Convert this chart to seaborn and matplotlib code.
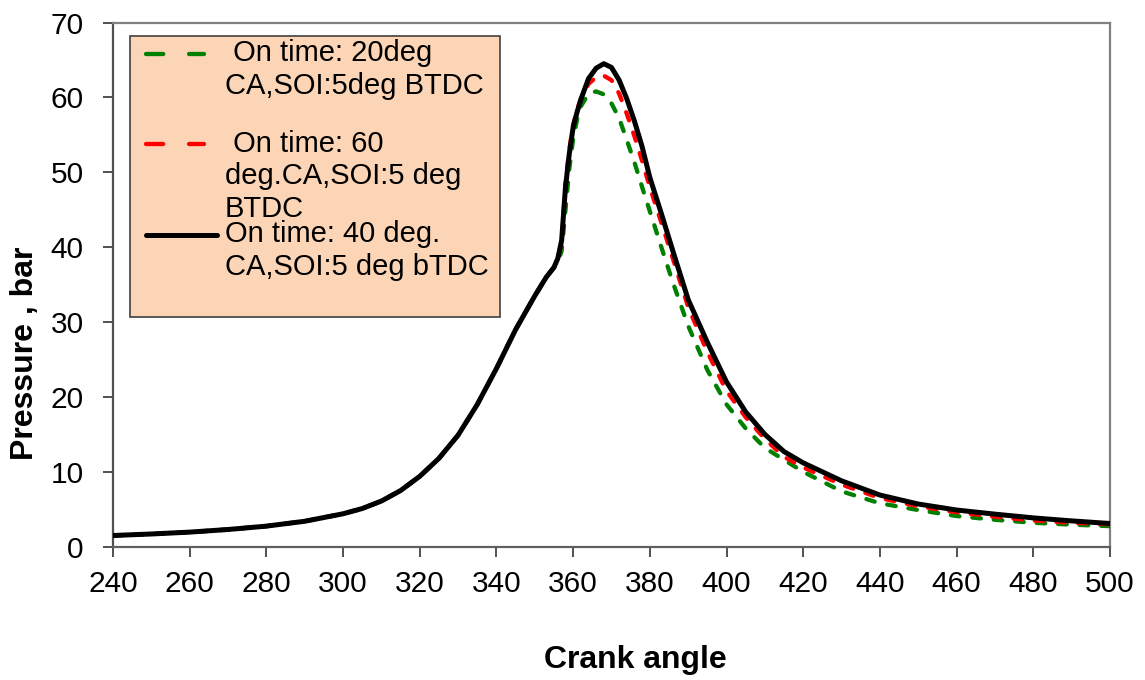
import numpy as np
import pandas as pd
import matplotlib
matplotlib.use("Agg")
import matplotlib.pyplot as plt
from matplotlib.lines import Line2D
import seaborn as sns

# ---------------- data ----------------
crank_angle = [240, 250, 260, 270, 280, 290, 300, 305, 310, 315, 320, 325, 330, 335,
               340, 345, 350, 353, 355, 356, 357, 358, 359, 360, 361, 362, 364, 366,
               368, 370, 372, 374, 376, 378, 380, 383, 386, 390, 395, 400, 405, 410,
               415, 420, 430, 440, 450, 460, 470, 480, 490, 500]

p_on40 = [1.5, 1.7, 1.95, 2.3, 2.75, 3.4, 4.4, 5.1, 6.1, 7.5, 9.4, 11.8, 14.9, 19.0,
          23.8, 29.0, 33.5, 36.0, 37.3, 38.5, 40.9, 48.0, 52.5, 56.0, 58.0, 59.7, 62.5, 63.9,
          64.5, 64.0, 62.3, 59.8, 56.8, 53.4, 49.3, 44.5, 39.5, 33.0, 27.3, 22.0, 18.0, 15.0,
          12.7, 11.2, 8.8, 6.9, 5.7, 4.9, 4.35, 3.85, 3.45, 3.1]

p_on60 = [1.5, 1.7, 1.95, 2.3, 2.75, 3.4, 4.4, 5.1, 6.1, 7.5, 9.4, 11.8, 14.9, 19.0,
          23.8, 29.0, 33.5, 36.0, 37.3, 38.5, 40.5, 48.5, 53.0, 56.3, 58.3, 59.8, 61.8, 62.7,
          62.9, 62.3, 60.5, 57.8, 54.8, 51.5, 48.0, 43.3, 38.5, 32.0, 26.0, 20.8, 17.3, 14.4,
          12.0, 10.6, 8.3, 6.5, 5.4, 4.6, 4.0, 3.5, 3.2, 3.0]

p_on20 = [1.5, 1.7, 1.95, 2.3, 2.75, 3.4, 4.4, 5.1, 6.1, 7.5, 9.4, 11.8, 14.9, 19.0,
          23.8, 29.0, 33.5, 36.0, 37.3, 38.0, 39.5, 45.0, 50.5, 54.5, 57.0, 58.8, 60.5, 60.8,
          60.4, 59.2, 57.2, 54.3, 51.3, 48.0, 44.8, 40.0, 35.3, 29.5, 23.6, 19.0, 15.8, 13.2,
          11.6, 10.0, 7.4, 5.8, 4.9, 4.1, 3.6, 3.2, 2.95, 2.75]

series_labels = [" On time: 20deg\nCA,SOI:5deg BTDC\n",
                 " On time: 60\ndeg.CA,SOI:5 deg\nBTDC",
                 "On time: 40 deg.\nCA,SOI:5 deg bTDC \n"]
series_colors = ["#008000", "#FF0000", "#000000"]

x_ticks = list(range(240, 501, 20))
y_ticks = list(range(0, 71, 10))
x_title = "Crank angle"
y_title = "Pressure , bar"

# ---------------- style ----------------
sns.set_style("white")
plt.rcParams["font.family"] = ["Liberation Sans", "DejaVu Sans"]
plt.rcParams["text.color"] = "black"
plt.rcParams["axes.labelcolor"] = "black"

fig = plt.figure(figsize=(11.45, 6.8), dpi=100)
ax = fig.add_axes([0.0987, 0.196, 0.8707, 0.7709])

lw_dash = 3.1
lw_solid = 3.6
dash = (0, (2, 3))
sns.lineplot(x=crank_angle, y=p_on20, ax=ax, color=series_colors[0], linewidth=lw_dash,
             linestyle=dash, dash_capstyle="round", zorder=3)
sns.lineplot(x=crank_angle, y=p_on60, ax=ax, color=series_colors[1], linewidth=lw_dash,
             linestyle=dash, dash_capstyle="round", zorder=4)
sns.lineplot(x=crank_angle, y=p_on40, ax=ax, color=series_colors[2], linewidth=lw_solid,
             solid_capstyle="round", solid_joinstyle="round", zorder=5)

ax.set_xlim(240, 500)
ax.set_ylim(0, 70)
ax.set_xticks(x_ticks)
ax.set_yticks(y_ticks)
ax.tick_params(axis="both", which="major", bottom=True, left=True, top=False, right=False,
               direction="out", length=7, width=1.1, color="#202020",
               labelsize=21.5, labelcolor="black")
ax.tick_params(axis="x", pad=10)
ax.tick_params(axis="y", pad=14)
for s in ax.spines.values():
    s.set_visible(True)
    s.set_color("#808080")
    s.set_linewidth(1.6)
ax.spines["left"].set_color("#505050")
ax.spines["bottom"].set_color("#606060")

ax.set_xlabel(x_title, fontsize=23, fontweight="bold", color="black")
ax.set_ylabel(y_title, fontsize=23, fontweight="bold", color="black")
ax.xaxis.label.set_va("center")
ax.xaxis.set_label_coords(0.5236, -0.216)
ax.yaxis.label.set_va("center")
ax.yaxis.set_label_coords(-0.0883, 0.3695)

# legend
handles = [Line2D([], [], color=series_colors[0], lw=lw_dash, linestyle=(0, (4, 6)), dash_capstyle="round"),
           Line2D([], [], color=series_colors[1], lw=lw_dash, linestyle=(0, (4, 6)), dash_capstyle="round"),
           Line2D([], [], color=series_colors[2], lw=lw_solid, solid_capstyle="round")]
leg = ax.legend(handles, series_labels, loc="upper left", bbox_to_anchor=(0.017, 0.974),
                borderaxespad=0, fontsize=21, frameon=True, fancybox=False,
                facecolor="#FBD5B5", edgecolor="#404040", framealpha=1,
                handlelength=2.0, handletextpad=1.15, labelspacing=-0.11, borderpad=0.1)
leg.get_frame().set_linewidth(1.2)
for t in leg.get_texts():
    t.set_linespacing(1.22)
    t.set_color("black")
# align each handle with the first line of its label, and indent it like the reference
fig.canvas.draw()
px = 72 / 100.0
step_pt = 33 * px
for i, (h, lab) in enumerate(zip(leg.legend_handles, series_labels)):
    n = lab.count("\n") + 1
    yd = np.asarray(h.get_ydata(), dtype=float)
    xd = np.asarray(h.get_xdata(), dtype=float)
    x0 = xd.min() + 13 * px
    x1 = xd.max() + (13 * px if i < 2 else 26 * px)
    h.set_data(np.linspace(x0, x1, len(yd)), yd + 0.5 * (n - 1) * step_pt)

fig.savefig("out.png", dpi=100)
